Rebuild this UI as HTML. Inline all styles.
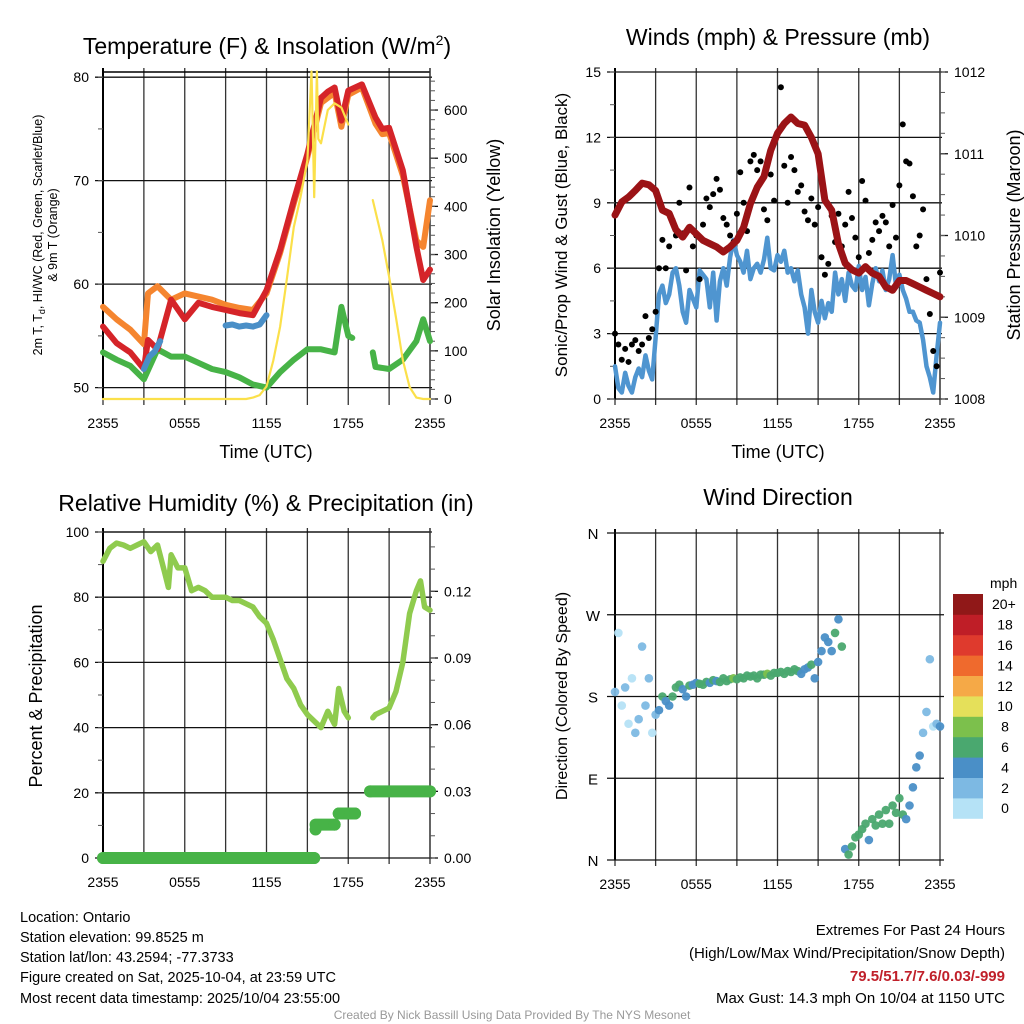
<!DOCTYPE html>
<html><head><meta charset="utf-8">
<style>
html,body{margin:0;padding:0;background:#fff;}
svg{display:block;font-family:"Liberation Sans",Arial,sans-serif;}
</style></head>
<body>
<svg id="fig" width="1024" height="1024" viewBox="0 0 1024 1024" xmlns="http://www.w3.org/2000/svg">
<rect x="0" y="0" width="1024" height="1024" fill="#fff"/>
<g id="static">
<text x="267" y="54" font-size="23" text-anchor="middle">Temperature (F) &amp; Insolation (W/m<tspan font-size="14" dy="-9">2</tspan><tspan dy="9">)</tspan></text>
<text x="778" y="45" font-size="23" text-anchor="middle">Winds (mph) &amp; Pressure (mb)</text>
<text x="266" y="511" font-size="23" text-anchor="middle">Relative Humidity (%) &amp; Precipitation (in)</text>
<text x="778" y="505" font-size="23" text-anchor="middle">Wind Direction</text>

<text x="266" y="458" font-size="18" text-anchor="middle">Time (UTC)</text>
<text x="778" y="458" font-size="18" text-anchor="middle">Time (UTC)</text>

<text transform="translate(42,235) rotate(-90)" font-size="12.5" text-anchor="middle">2m T, T<tspan font-size="9" dy="3">d</tspan><tspan dy="-3">, HI/WC (Red, Green, Scarlet/Blue)</tspan></text>
<text transform="translate(57,235) rotate(-90)" font-size="12.5" text-anchor="middle">&amp; 9m T (Orange)</text>
<text transform="translate(500,235) rotate(-90)" font-size="18" text-anchor="middle">Solar Insolation (Yellow)</text>
<text transform="translate(567,235) rotate(-90)" font-size="17" text-anchor="middle">Sonic/Prop Wind &amp; Gust (Blue, Black)</text>
<text transform="translate(1020,235) rotate(-90)" font-size="18" text-anchor="middle">Station Pressure (Maroon)</text>
<text transform="translate(42,696) rotate(-90)" font-size="18" text-anchor="middle">Percent &amp; Precipitation</text>
<text transform="translate(567,696) rotate(-90)" font-size="16" text-anchor="middle">Direction (Colored By Speed)</text>

<g font-size="14.5">
<text x="20" y="922">Location: Ontario</text>
<text x="20" y="942">Station elevation: 99.8525 m</text>
<text x="20" y="962">Station lat/lon: 43.2594; -77.3733</text>
<text x="20" y="982">Figure created on Sat, 2025-10-04, at 23:59 UTC</text>
<text x="20" y="1003">Most recent data timestamp: 2025/10/04 23:55:00</text>
</g>
<g font-size="15" text-anchor="end">
<text x="1005" y="935">Extremes For Past 24 Hours</text>
<text x="1005" y="958">(High/Low/Max Wind/Precipitation/Snow Depth)</text>
<text x="1005" y="981" fill="#c0202a" font-weight="bold">79.5/51.7/7.6/0.03/-999</text>
<text x="1005" y="1003">Max Gust: 14.3 mph On 10/04 at 1150 UTC</text>
</g>
<text x="512" y="1019" font-size="12" fill="#999" text-anchor="middle">Created By Nick Bassill Using Data Provided By The NYS Mesonet</text>
</g>
<g id="charts"></g>
</svg>
<script>
// ---------- DATA ----------
const xTickLabels = ["2355","0555","1155","1755","2355"];
const tempHours = [0,1,2,3,3.3,4,5,6,7,8,9,10,11,12,13,14,15,16,16.5,17,17.5,18,19,20,20.5,21,22,23,23.5,24];
const temp2m   = [55.9,54.3,53.4,51.8,54.6,53.7,58.5,56.6,58.2,57.8,57.5,57.2,57.0,59.4,63.3,68.1,72.6,78.0,78.6,79.0,75.8,78.7,79.3,76.1,75.0,75.1,71.0,63.6,60.4,61.4];
const temp9m   = [57.8,56.6,55.6,54.2,59.1,59.8,58.5,59.1,58.8,58.5,58.0,57.7,57.5,59.1,63.0,67.8,72.3,77.5,78.0,78.5,75.2,78.3,79.0,75.5,74.5,74.6,70.5,64.2,63.6,68.1];
const dewHours = [0,1,2,3,4,5,6,7,8,9,10,11,12,13,14,15,16,17,17.5,18,18.3,null,19.8,20,21,22,23,23.5,24];
const dewpoint = [53.4,52.7,52.1,50.8,53.7,53.0,53.0,52.4,51.8,51.5,51.0,50.3,50.0,51.5,52.7,53.7,53.7,53.4,57.8,55.0,54.8,null,53.4,52.0,51.8,52.7,54.5,56.6,54.5];
const wcHours1 = [3.0,3.4,3.8,4.2];
const windChill1 = [51.8,53.0,53.5,54.5];
const wcHours2 = [9.0,9.5,10,10.5,11,11.5,12];
const windChill2 = [56.0,56.1,55.9,56.0,55.9,56.1,57.0];
const solarHours = [0,10.5,11,11.5,12,12.5,13,13.5,14,14.5,15,15.3,15.4,15.5,15.7,15.8,16,16.5,17,17.5,18,null,19.8,20.5,21,21.5,22,22.5,23,23.5,24];
const solarVals  = [0,0,3,8,26,80,150,250,357,420,496,680,560,419,680,540,531,600,614,605,570,null,413,330,254,170,81,25,3,0,0];
const tempTicks = [50,60,70,80];
const solarTicks = [0,100,200,300,400,500,600];

const gustVals = [3.0,2.5,1.8,2.3, 1.7,2.5,2.7,2.2, 2.5,3.8,2.8,3.2, 4.0,6.0,7.3,6.0, 7.0,8.2,7.5,9.0, 7.6,5.9,9.7,7.0, 7.5,5.5,8.0,9.2, 8.8,9.4,10.1,9.6, 8.3,8.0,7.5,7.2, 8.5,10.4,9.0,7.7, 10.9,11.2,10.5,10.9, 8.7,8.2,10.3,9.1, 12.2,14.3,10.7,9.0, 11.1,10.5,9.5,9.8, 8.6,8.2,9.2,8.0, 8.8,6.5,5.7,6.2, 8.4,7.2,8.5,7.0, 8.0,9.5,8.3,7.4, 6.5,10.0,9.1,6.7, 7.3,8.1,7.7,8.4, 8.1,7.0,8.9,7.4, 9.8,12.6,10.9,10.8, 9.3,7.0,7.5,8.7, 5.5,3.9,2.2,1.5, 5.8];
const sonicVals = [1.5,0.5,0.3,1.2, 0.6,0.3,1.0,1.4, 1.0,2.0,1.3,0.9, 2.8,4.8,5.2,4.4, 4.8,5.8,6.0,5.2, 4.0,3.5,5.0,4.6, 4.2,5.9,5.7,5.5, 4.2,5.8,3.6,5.4, 6.0,5.2,6.5,7.3, 6.6,6.3,5.8,6.8, 5.5,6.0,6.2,5.8, 6.4,7.4,6.0,5.9, 6.6,6.3,6.8,5.8, 6.0,5.4,5.9,4.8, 4.2,3.0,5.0,4.0, 3.5,4.5,3.7,4.4, 4.0,5.8,4.8,5.5, 4.5,5.8,5.2,5.0, 6.1,5.0,5.6,4.3, 5.3,6.0,5.4,5.9, 5.0,5.5,6.6,5.2, 5.7,5.0,4.6,4.0, 4.0,3.6,3.5,2.7, 1.5,1.0,0.3,2.0, 3.5];
const pressVals = [1010.25,1010.41,1010.47,1010.55,1010.64,1010.62,1010.55,1010.31,1010.27,1010.07,1009.98,1010.10,1010.02,1009.94,1009.90,1009.86,1009.80,1009.86,1009.94,1010.10,1010.39,1010.59,1010.72,1011.04,1011.25,1011.37,1011.45,1011.37,1011.35,1011.20,1011.00,1010.43,1010.31,1009.90,1009.66,1009.58,1009.54,1009.62,1009.54,1009.50,1009.37,1009.33,1009.45,1009.45,1009.41,1009.37,1009.33,1009.29,1009.25];
const windTicks = [0,3,6,9,12,15];
const pressTicks = [1008,1009,1010,1011,1012];

const rhHours = [0,0.5,1,1.5,2,2.5,3,3.5,4,4.5,4.8,5,5.5,6,6.5,7,7.5,8,8.5,9,9.5,10,10.5,11,11.5,12,12.5,13,13.5,14,14.5,15,15.5,16,16.5,17,17.3,17.7,18,null,19.8,20,20.5,21,21.5,22,22.5,23,23.3,23.6,24];
const rhVals  = [91,95,96.6,96,95,96,97,94,96,88,83,93,89,89,82,83,82,80,80,80,79,79,78,77,74,72,67,61,55,52,47,44,42,40,45,41,52,45,43,null,43,44,45,46,51,60,75,82,85,77,76];
const precipHours = [0,15.5,15.6,17.0,17.3,18.5,19.6,24];
const precipVals  = [0,0,0.0128,0.015,0.02,0.02,0.03,0.03];
const precipSegStart = [0,15.6,17.3,19.6];
const precipSegEnd   = [15.5,17.0,18.5,24];
const precipSegVals  = [0,0.015,0.02,0.03];
const rhTicks = [0,20,40,60,80,100];
const precipTicks = [0,0.03,0.06,0.09,0.12];

const dirVals = [185,250,170,190, 150,200,140,155, 235,170,200,140, 160,165,180,175, 170,180,190,193, 188,180,192,193, 195,194,193,196, 195,198,197,196, 200,197,199,200, 199,201,200,203, 202,203,200,204, 204,205,203,206, 206,207,205,208, 207,210,208,205, 210,212,215,200, 218,230,245,240, 230,250,265,235, 12,6,15,25, 28,34,40,22, 45,38,50,40, 55,40,60,52, 68,50,45,60, 80,102,115,140, 163,221,147,150, 147];
const dirLabels = ["N","E","S","W","N"];
const speedBinLabels = ["0","2","4","6","8","10","12","14","16","18","20+"];
const speedColors = ["#b5e2f6","#7db9e3","#4a8fc7","#4aa86f","#7cc04c","#e5e05a","#f5a947","#ef6a2d","#df3a2d","#bf1e27","#901818"];

// ---------- DRAWING ----------
const NS="http://www.w3.org/2000/svg";
const root=document.getElementById('charts');
function mk(tag,attrs,parent){const e=document.createElementNS(NS,tag);for(const k in attrs)e.setAttribute(k,attrs[k]);(parent||root).appendChild(e);return e;}
function txt(s,x,y,size,anchor,parent){const t=mk('text',{x:x,y:y,'font-size':size,'text-anchor':anchor},parent);t.textContent=s;return t;}

const L1=103,R1=430,L2=615,R2=940;
function xs(L,R){return h=>L+h*(R-L)/24;}
function ys(T,B,min,max){return v=>B-(v-min)*(B-T)/(max-min);}

function frame(L,R,T,B,name){
  const g=mk('g',{});
  
  
  for(let i=0;i<=8;i++){const x=L+i*(R-L)/8;mk('line',{x1:x,x2:x,y1:T-4,y2:B+6,stroke:'#333','stroke-width':1.3},g);}
  mk('line',{x1:L,x2:L,y1:T-4,y2:B,stroke:'#000','stroke-width':2},g);
  return g;
}
function xTicks(L,R,B,name){
  const g=mk('g',{});
  
  
  xTickLabels.forEach((s,i)=>{txt(s,L+i*(R-L)/4,B+29,14,'middle',g);});
}
function hLines(L,R,vals,y,g){vals.forEach(v=>mk('line',{x1:L-8,x2:R+2,y1:y(v),y2:y(v),stroke:'#111','stroke-width':1.3},g));}
function leftTicks(L,vals,y,labels,minorStep,min,max,g){
  vals.forEach((v,i)=>txt(labels?labels[i]:String(v),L-14,y(v)+5,14,'end',g));
  if(minorStep){for(let v=min;v<=max+1e-9;v+=minorStep)mk('line',{x1:L-5,x2:L,y1:y(v),y2:y(v),stroke:'#555','stroke-width':1},g);}
}
function rightTicks(R,vals,y,labels,minorStep,min,max,g){
  vals.forEach((v,i)=>{mk('line',{x1:R,x2:R+8,y1:y(v),y2:y(v),stroke:'#111','stroke-width':1.3},g);txt(labels[i],R+14,y(v)+5,14,'start',g);});
  for(let v=min;v<=max+1e-9;v+=minorStep)mk('line',{x1:R,x2:R+5,y1:y(v),y2:y(v),stroke:'#555','stroke-width':1},g);
}
function path(hours,vals,x,y){let d='',pen=false;for(let i=0;i<vals.length;i++){if(vals[i]===null||hours[i]===null){pen=false;continue;}d+=(pen?'L':'M')+x(hours[i]).toFixed(1)+' '+y(vals[i]).toFixed(1);pen=true;}return d;}
function line(name,hours,vals,x,y,color,w){const p=mk('path',{d:path(hours,vals,x,y),fill:'none',stroke:color,'stroke-width':w,'stroke-linejoin':'round','stroke-linecap':'round'});return p;}
const q=i=>i*0.25, hh=i=>i*0.5;

// Panel 1
{
 const T=72,B=399,x=xs(L1,R1),y=ys(T,B,48.9,80.5),ys2=ys(T,B,0,679);
 const g=frame(L1,R1,T,B,'temp');
 mk('line',{x1:L1,x2:R1,y1:T,y2:T,stroke:'#000','stroke-width':1.5},g);
 hLines(L1,R1,tempTicks,y,g);
 leftTicks(L1,tempTicks,y,null,5,50,80,g);
 mk('line',{x1:R1,x2:R1,y1:T-4,y2:B,stroke:'#333','stroke-width':1.3},g);
 rightTicks(R1,solarTicks,ys2,solarTicks.map(String),20,0,660,g);
 xTicks(L1,R1,B,'temp');
 line('dewpoint-line',dewHours,dewpoint,x,y,'#47b347',6);
 line('temp-9m-line',tempHours,temp9m,x,y,'#f5852f',6);
 line('temp-2m-line',tempHours,temp2m,x,y,'#d52429',6);
 line('wind-chill-line-1',wcHours1,windChill1,x,y,'#4a8fc7',6);
 line('wind-chill-line-2',wcHours2,windChill2,x,y,'#4a8fc7',6);
 line('solar-line',solarHours,solarVals,x,v=>Math.max(T-2,ys2(v)),'#fbe04a',2.2);
}
// Panel 2
{
 const T=72,B=399,x=xs(L2,R2),y=ys(T,B,0,15),yp=ys(T,B,1008,1012);
 const g=frame(L2,R2,T,B,'wind');
 hLines(L2,R2,windTicks,y,g);
 leftTicks(L2,windTicks,y,null,1.5,0,15,g);
 mk('line',{x1:R2,x2:R2,y1:T-4,y2:B,stroke:'#333','stroke-width':1.3},g);
 rightTicks(R2,pressTicks,yp,pressTicks.map(String),0.25,1008,1012,g);
 xTicks(L2,R2,B,'wind');
 line('sonic-wind-line',sonicVals.map((v,i)=>q(i)),sonicVals,x,y,'#4f95d0',4.5);
 const gg=mk('g',{});
 
 
 gustVals.forEach((v,i)=>{const c=mk('circle',{cx:x(q(i)),cy:y(v),r:3,fill:'#000'},gg);});
 line('pressure-line',pressVals.map((v,i)=>hh(i)),pressVals,x,yp,'#9b1316',7);
}
// Panel 3
{
 const T=532,B=858,x=xs(L1,R1),y=ys(T,B,0,100),yp=ys(T,B,0,0.1467);
 const g=frame(L1,R1,T,B,'rh');
 mk('line',{x1:L1,x2:R1,y1:T,y2:T,stroke:'#000','stroke-width':1.3},g);
 hLines(L1,R1,rhTicks,y,g);
 leftTicks(L1,rhTicks,y,null,10,0,100,g);
 mk('line',{x1:R1,x2:R1,y1:T-4,y2:B,stroke:'#333','stroke-width':1.3},g);
 rightTicks(R1,precipTicks,yp,precipTicks.map(v=>v.toFixed(2)),0.01,0,0.14,g);
 xTicks(L1,R1,B,'rh');
 line('rh-line',rhHours,rhVals,x,y,'#8fcb4e',5.5);
 const pg=mk('g',{});
 
 
 precipSegVals.forEach((v,i)=>{const l=mk('line',{x1:x(precipSegStart[i]),x2:x(precipSegEnd[i]),y1:yp(v),y2:yp(v),stroke:'#47b347','stroke-width':12,'stroke-linecap':'round'},pg);});
 precipHours.forEach((h,i)=>{const c=mk('circle',{cx:x(h),cy:yp(precipVals[i]),r:6,fill:'#47b347'},pg);});
}
// Panel 4
{
 const T=533,B=860,x=xs(L2,R2),y=ys(T,B,0,360);
 const g=frame(L2,R2,T,B,'wdir');
 const dv=[0,90,180,270,360];
 hLines(L2,R2+2,dv,y,g);
 dv.forEach((v,i)=>txt(dirLabels[i],L2-22,y(v)+6,15,'middle',g));
 xTicks(L2,R2,B,'wdir');
 const pg=mk('g',{});
 
 
 dirVals.forEach((d,i)=>{const sp=sonicVals[i];const idx=Math.min(10,Math.round(sp/2));const c=mk('circle',{cx:x(q(i)),cy:y(d),r:4.3,fill:speedColors[idx],'fill-opacity':0.95},pg);});
 const cb=mk('g',{});
 
 
 txt('mph',990,588,14,'start',cb);
 const top=594,h=20.4;
 speedColors.forEach((c,i)=>{const yy=top+(10-i)*h;mk('rect',{x:953,y:yy,width:30,height:h+0.4,fill:c},cb);txt(speedBinLabels[i],i==10?992:1005,yy+h/2+5,14,i==10?'start':'middle',cb);});
}
</script>
</body></html>
